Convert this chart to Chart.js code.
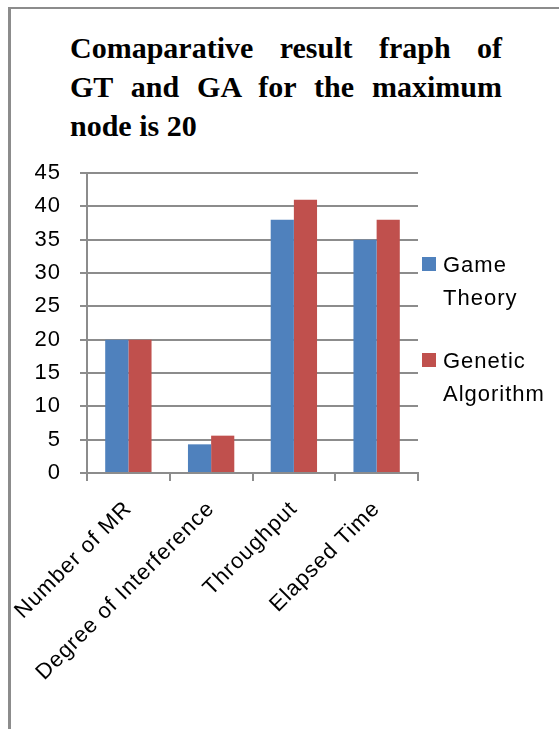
<!DOCTYPE html>
<html>
<head>
<meta charset="utf-8">
<script src="https://cdn.jsdelivr.net/npm/chart.js@4/dist/chart.umd.min.js"></script>
<style>
  html, body { margin: 0; padding: 0; background: #fff; }
  #wrap { position: relative; width: 559px; height: 729px; overflow: hidden; }
  #frame {
    position: absolute; left: 8px; top: 7px; width: 600px; height: 800px;
    border-top: 2px solid #8c8c8c; border-left: 3px solid #8c8c8c;
  }
  #title {
    position: absolute; left: 70px; top: 28px; width: 432px;
    font-family: "Liberation Serif", "Times New Roman", serif;
    font-weight: bold; font-size: 30px; line-height: 39px; color: #000;
  }
  #title .j { text-align: justify; text-align-last: justify; }
  canvas { position: absolute; left: 0; top: 0; }
</style>
</head>
<body>
<div id="wrap">
  <div id="frame"></div>
  <div id="title">
    <div class="j">Comaparative result fraph of</div>
    <div class="j">GT and GA for the maximum</div>
    <div>node is 20</div>
  </div>
  <canvas id="chart" width="559" height="729"></canvas>
</div>
<script>
const categories = ['Number of MR', 'Degree of Interference', 'Throughput', 'Elapsed Time'];
const gameTheory = [20, 4.3, 38, 35];
const geneticAlgorithm = [20, 5.6, 41, 38];
const yTicks = [0, 5, 10, 15, 20, 25, 30, 35, 40, 45];

const legendLines = [['Game', 'Theory'], ['Genetic', 'Algorithm']];

const font = { family: '"Liberation Sans", Arial, sans-serif', size: 22 };

// a little extra letter spacing, closer to the original's look
const spacing = {
  id: 'spacing',
  beforeLayout(chart) { chart.ctx.letterSpacing = '1px'; },
  beforeDraw(chart) { chart.ctx.letterSpacing = '1px'; }
};

// legend on the right, two lines per entry
const sideLegend = {
  id: 'sideLegend',
  afterDraw(chart) {
    const ctx = chart.ctx;
    ctx.save();
    ctx.font = font.size + 'px ' + font.family;
    ctx.textBaseline = 'alphabetic';
    const tops = [257, 353];
    chart.data.datasets.forEach((ds, i) => {
      ctx.fillStyle = ds.backgroundColor;
      ctx.fillRect(422, tops[i], 14, 14);
      ctx.fillStyle = '#000';
      legendLines[i].forEach((line, j) => {
        ctx.fillText(line, 443, tops[i] + 15 + j * 33);
      });
    });
    ctx.restore();
  }
};

new Chart(document.getElementById('chart'), {
  type: 'bar',
  data: {
    labels: categories,
    datasets: [
      { label: 'Game Theory', data: gameTheory, backgroundColor: '#4F81BD' },
      { label: 'Genetic Algorithm', data: geneticAlgorithm, backgroundColor: '#C0504D' }
    ]
  },
  options: {
    responsive: false,
    animation: false,
    layout: { padding: { left: 0, right: 141, top: 173, bottom: 0 } },
    datasets: { bar: { categoryPercentage: 0.56, barPercentage: 1 } },
    plugins: {
      legend: { display: false },
      title: { display: false },
      tooltip: { enabled: false }
    },
    scales: {
      x: {
        offset: true,
        afterFit: (s) => { s.height = 256; s.paddingLeft = 0; s.paddingRight = 0; },
        grid: { offset: true, drawOnChartArea: false, drawTicks: true, tickLength: 8, color: '#8c8c8c', lineWidth: 2 },
        border: { color: '#8c8c8c', width: 2 },
        ticks: { color: '#000', font, minRotation: 45, maxRotation: 45, padding: 15, autoSkip: false }
      },
      y: {
        min: 0, max: 45,
        afterFit: (s) => { s.width = 87; s.paddingTop = 0; s.paddingBottom = 0; },
        afterBuildTicks: (s) => { s.ticks = yTicks.map(v => ({ value: v })); },
        grid: { color: '#8c8c8c', lineWidth: 2, tickLength: 7 },
        border: { color: '#8c8c8c', width: 2 },
        ticks: { color: '#000', font, padding: 19 }
      }
    }
  },
  plugins: [spacing, sideLegend]
});
</script>
</body>
</html>
